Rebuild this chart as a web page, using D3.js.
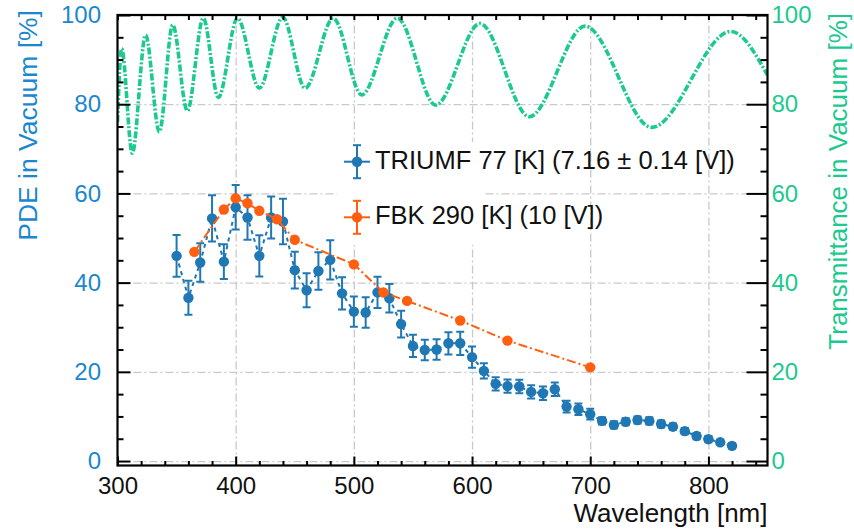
<!DOCTYPE html>
<html>
<head>
<meta charset="utf-8">
<script src="https://cdn.jsdelivr.net/npm/d3@7"></script>
<style>
  body { margin: 0; background: #fff; }
  svg { display: block; }
  text { font-family: "Liberation Sans", Arial, Helvetica, sans-serif; }
</style>
</head>
<body>
<svg id="chart" width="854" height="529"></svg>
<script>
// TRIUMF SiPM photon detection efficiency at 77 K
const triumfWavelength = [350, 360, 370, 380, 390, 400, 410, 420, 430, 440, 450, 460, 470, 480, 490, 500,
  510, 520, 530, 540, 550, 560, 570, 580, 590, 600, 610, 620, 630, 640, 650, 660, 670, 680, 690, 700,
  710, 720, 730, 740, 750, 760, 770, 780, 790, 800, 810, 820];
const triumfPDE = [46.0, 36.6, 44.5, 54.4, 44.7, 56.9, 54.6, 46.0, 54.6, 53.7, 42.8, 38.3, 42.6, 45.1, 37.6, 33.5,
  33.3, 37.8, 36.5, 30.7, 25.8, 24.9, 25.0, 26.4, 26.4, 23.3, 20.2, 17.3, 16.8, 16.7, 15.5, 15.2, 16.1, 12.2, 11.6, 10.5,
  9.0, 8.1, 8.8, 9.2, 9.0, 8.3, 7.7, 6.7, 5.6, 4.9, 4.2, 3.4];
const triumfErr = [4.7, 3.8, 4.3, 5.2, 3.9, 5.0, 5.0, 4.6, 4.7, 5.1, 4.1, 3.8, 4.2, 4.4, 3.6, 3.4,
  3.4, 3.5, 3.2, 3.0, 2.5, 2.3, 2.3, 2.5, 2.6, 2.4, 1.7, 1.5, 1.5, 1.5, 1.5, 1.5, 1.5, 1.3, 1.3, 1.2,
  0.8, 0.8, 0.8, 0.8, 0.8, 0.8, 0.7, 0.7, 0.7, 0.7, 0.6, 0.6];

// FBK room-temperature reference PDE
const fbkWavelength = [365, 390, 400, 410, 420, 435, 450, 500, 525, 545, 590, 630, 700];
const fbkPDE = [46.9, 56.4, 58.9, 57.8, 56.1, 54.2, 49.6, 44.1, 37.8, 35.9, 31.5, 27.0, 21.0];

// Window transmittance in vacuum (turning points of the interference pattern)
const transWavelength = [300, 303.5, 312.5, 323.8, 335.4, 346.7, 359.1, 372.6, 385.3, 401.5, 420, 439.8,
  458.7, 482.6, 506.6, 536.8, 569.2, 606.7, 648.5, 695.6, 752, 818.9, 850];
const transValue = [76, 92.5, 69.0, 95.5, 73.8, 97.8, 78.5, 99.3, 81.5, 99.3, 83.6, 99.5,
  83.6, 99.3, 82.1, 99.3, 79.8, 98.1, 77.2, 97.5, 74.8, 96.3, 86.5];

const xTicks = [300, 400, 500, 600, 700, 800];
const yTicks = [0, 20, 40, 60, 80, 100];
const legendLabels = ["TRIUMF 77 [K] (7.16 \u00b1 0.14 [V])", "FBK 290 [K] (10 [V])"];

const blue = "#1f77b4", blueText = "#1b87cf";
const orange = "#ff5f0f";
const green = "#1cc98f";
const gridColor = "#c9c9c9";

const svg = d3.select("#chart");
const x = d3.scaleLinear().domain([300, 850]).range([117.5, 767.5]);
const y = d3.scaleLinear().domain([-1, 100]).range([465.5, 15]);
const [x0, x1] = x.range();
const [yb, yt] = y.range();

svg.append("defs").append("clipPath").attr("id", "plot")
  .append("rect").attr("x", x0).attr("y", yt).attr("width", x1 - x0).attr("height", yb - yt);

// grid
const gridDash = "8,3,2,3";
svg.append("g").attr("transform", `translate(0,${yb})`)
  .call(d3.axisBottom(x).tickValues(xTicks.filter(d => d > 300)).tickSize(-(yb - yt)).tickFormat(""))
  .call(g => g.select(".domain").remove())
  .call(g => g.selectAll("line").attr("stroke", gridColor).attr("stroke-width", 1.3).attr("stroke-dasharray", gridDash));
svg.append("g").attr("transform", `translate(${x0},0)`)
  .call(d3.axisRight(y).tickValues(yTicks).tickSize(x1 - x0).tickFormat(""))
  .call(g => g.select(".domain").remove())
  .call(g => g.selectAll("line").attr("stroke", gridColor).attr("stroke-width", 1.3).attr("stroke-dasharray", gridDash));

// legend background
svg.append("rect").attr("x", 337).attr("y", 142).attr("width", 147).attr("height", 103).attr("fill", "#fff");

const plot = svg.append("g").attr("clip-path", "url(#plot)");

// transmittance curve
plot.append("path")
  .datum(transWavelength.map((w, i) => [w, transValue[i]]))
  .attr("fill", "none").attr("stroke", green).attr("stroke-width", 3.6)
  .attr("stroke-dasharray", "7,2,2,2")
  .attr("d", d3.line().x(d => x(d[0])).y(d => y(d[1])).curve(d3.curveMonotoneX));

// TRIUMF series
const triumf = triumfWavelength.map((w, i) => ({ w, v: triumfPDE[i], e: triumfErr[i] }));
plot.append("path").datum(triumf)
  .attr("fill", "none").attr("stroke", blue).attr("stroke-width", 2).attr("stroke-dasharray", "4,4")
  .attr("d", d3.line().x(d => x(d.w)).y(d => y(d.v)));
const eb = plot.append("g").attr("stroke", blue).attr("stroke-width", 2);
eb.selectAll("line.v").data(triumf).join("line").attr("class", "v")
  .attr("x1", d => x(d.w)).attr("x2", d => x(d.w))
  .attr("y1", d => y(d.v - d.e)).attr("y2", d => y(d.v + d.e));
eb.selectAll("line.t").data(triumf).join("line").attr("class", "t")
  .attr("x1", d => x(d.w) - 4).attr("x2", d => x(d.w) + 4)
  .attr("y1", d => y(d.v + d.e)).attr("y2", d => y(d.v + d.e));
eb.selectAll("line.b").data(triumf).join("line").attr("class", "b")
  .attr("x1", d => x(d.w) - 4).attr("x2", d => x(d.w) + 4)
  .attr("y1", d => y(d.v - d.e)).attr("y2", d => y(d.v - d.e));
plot.append("g").selectAll("circle").data(triumf).join("circle")
  .attr("cx", d => x(d.w)).attr("cy", d => y(d.v)).attr("r", 5.2).attr("fill", blue);

// FBK series
const fbk = fbkWavelength.map((w, i) => ({ w, v: fbkPDE[i] }));
plot.append("path").datum(fbk)
  .attr("fill", "none").attr("stroke", orange).attr("stroke-width", 2).attr("stroke-dasharray", "9,3,2,3")
  .attr("d", d3.line().x(d => x(d.w)).y(d => y(d.v)));
plot.append("g").selectAll("circle").data(fbk).join("circle")
  .attr("cx", d => x(d.w)).attr("cy", d => y(d.v)).attr("r", 5.2).attr("fill", orange);

// frame
svg.append("rect").attr("x", x0).attr("y", yt).attr("width", x1 - x0).attr("height", yb - yt)
  .attr("fill", "none").attr("stroke", "#000").attr("stroke-width", 2.2);

const minorY = d3.range(0, 101, 5).filter(v => v % 20 !== 0);
const minorX = d3.range(320, 850, 20).filter(v => v % 100 !== 0);
const tickStyle = g => g.call(s => s.select(".domain").remove())
  .call(s => s.selectAll("line").attr("stroke", "#000").attr("stroke-width", 2));

// bottom axis
svg.append("g").attr("transform", `translate(0,${yb})`)
  .call(d3.axisBottom(x).tickValues(xTicks).tickSize(-9).tickPadding(11))
  .call(tickStyle)
  .call(g => g.selectAll("text").attr("fill", "#111").attr("font-size", 24).attr("dy", "0.71em"));
svg.append("g").attr("transform", `translate(0,${yb})`)
  .call(d3.axisBottom(x).tickValues(minorX).tickSize(-4.5).tickFormat(""))
  .call(tickStyle);
// top ticks
svg.append("g").attr("transform", `translate(0,${yt})`)
  .call(d3.axisTop(x).tickValues(xTicks.concat(minorX)).tickSize(-5).tickFormat(""))
  .call(tickStyle);

// left axis
svg.append("g").attr("transform", `translate(${x0},0)`)
  .call(d3.axisLeft(y).tickValues(yTicks).tickSize(-13).tickPadding(16.5))
  .call(tickStyle)
  .call(g => g.selectAll("text").attr("fill", blueText).attr("font-size", 24));
svg.append("g").attr("transform", `translate(${x0},0)`)
  .call(d3.axisLeft(y).tickValues(minorY).tickSize(-6).tickFormat(""))
  .call(tickStyle);

// right axis
svg.append("g").attr("transform", `translate(${x1},0)`)
  .call(d3.axisRight(y).tickValues(yTicks).tickSize(-21).tickPadding(4))
  .call(tickStyle)
  .call(g => g.selectAll("text").attr("fill", green).attr("font-size", 24));
svg.append("g").attr("transform", `translate(${x1},0)`)
  .call(d3.axisRight(y).tickValues(minorY).tickSize(-7).tickFormat(""))
  .call(tickStyle);

// axis titles
svg.append("text").attr("x", x1).attr("y", 522).attr("text-anchor", "end")
  .attr("font-size", 26).attr("fill", "#111").text("Wavelength [nm]");
svg.append("text").attr("transform", "translate(37,10) rotate(-90)").attr("text-anchor", "end")
  .attr("font-size", 26.5).attr("fill", blueText).text("PDE in Vacuum [%]");
svg.append("text").attr("transform", "translate(847,13) rotate(-90)").attr("text-anchor", "end")
  .attr("font-size", 26).attr("fill", green).text("Transmittance in Vacuum [%]");

// legend
const legendRows = [
  { label: legendLabels[0], color: blue, cy: 161.7 },
  { label: legendLabels[1], color: orange, cy: 217.3 }
];
const lg = svg.append("g");
legendRows.forEach(r => {
  const cx = 357;
  const g = lg.append("g").attr("stroke", r.color).attr("stroke-width", 2);
  g.append("line").attr("x1", cx - 13).attr("x2", cx + 13).attr("y1", r.cy).attr("y2", r.cy);
  g.append("line").attr("x1", cx).attr("x2", cx).attr("y1", r.cy - 16.5).attr("y2", r.cy + 16.5);
  g.append("line").attr("x1", cx - 4).attr("x2", cx + 4).attr("y1", r.cy - 16.5).attr("y2", r.cy - 16.5);
  g.append("line").attr("x1", cx - 4).attr("x2", cx + 4).attr("y1", r.cy + 16.5).attr("y2", r.cy + 16.5);
  lg.append("circle").attr("cx", cx).attr("cy", r.cy).attr("r", 5.2).attr("fill", r.color);
  lg.append("text").attr("x", 375).attr("y", r.cy + 7).attr("font-size", 25.5).attr("fill", "#111").text(r.label);
});
</script>
</body>
</html>
